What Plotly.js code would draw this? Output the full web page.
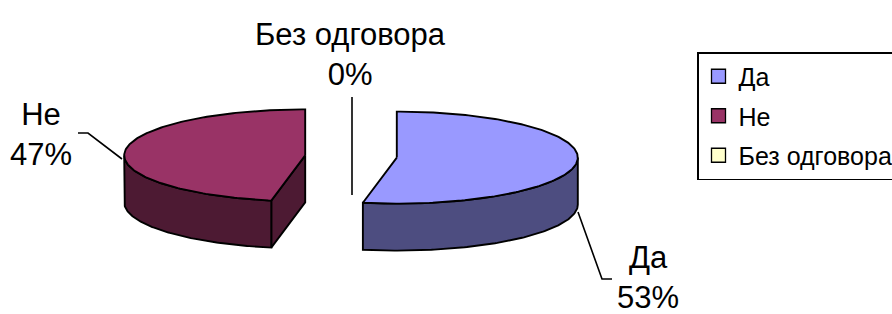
<!DOCTYPE html>
<html><head><meta charset="utf-8">
<script src="https://cdn.plot.ly/plotly-3.0.1.min.js"></script>
<style>html,body{margin:0;padding:0;background:#fff;}#chart{width:892px;height:314px;}</style>
</head><body><div id="chart"></div>
<script>
// ---- data ----
const categories = ["Да", "Не", "Без одговора"];
const values = [53, 47, 0];
const topColors = ["#9999FF", "#993366", "#FFFFCC"];
const sideColors = ["#4D4D80", "#4D1A33", "#80806A"];

// ---- layout / geometry (pixel-space axes) ----
const geom = {cx: 351, cy: 156.5, rx: 181, ry: 46, depth: 47, explode: 46};
const labelPos = {
  "Да": {x: 648, y: 277, leader: "M 612 279 L 602 279 L 578 212"},
  "Не": {x: 41, y: 134, leader: "M 78 133 L 88 133 L 122 159"},
  "Без одговора": {x: 350, y: 54, leader: "M 352 97 L 352 195"}
};
const FONT = "Liberation Sans, Arial, sans-serif";

const total = values.reduce((a, b) => a + b, 0);
const rad = d => d * Math.PI / 180;
function rim(cx, cy, th, dy) {
  return [cx + geom.rx * Math.sin(rad(th)), cy - geom.ry * Math.cos(rad(th)) + (dy || 0)];
}
function poly(points, fill) {
  return {type: "scatter", mode: "lines", x: points.map(p => p[0]), y: points.map(p => p[1]),
    fill: "toself", fillcolor: fill, line: {color: "#000", width: 1.9},
    hoverinfo: "skip", showlegend: false};
}

const traces = [];
let start = 0;
values.forEach((v, i) => {
  const sweep = v / total * 360;
  const t1 = start, t2 = start + sweep;
  start = t2;
  if (v <= 0) return;
  const mid = (t1 + t2) / 2;
  const cx = geom.cx + geom.explode * Math.sin(rad(mid));
  const cy = geom.cy - geom.explode * Math.cos(rad(mid)) * geom.ry / geom.rx;
  // radial cut faces (visible if their normal points toward viewer)
  [[t1, t1 - 90], [t2, t2 + 90]].forEach(([t, n]) => {
    if (-Math.cos(rad(n)) > 1e-6) {
      const p = rim(cx, cy, t);
      traces.push(poly([[cx, cy], p, [p[0], p[1] + geom.depth], [cx, cy + geom.depth], [cx, cy]], sideColors[i]));
    }
  });
  // curved outer side (front half only)
  const a = Math.max(t1, 90), b = Math.min(t2, 270);
  if (b > a) {
    const pts = [];
    for (let t = a; t <= b + 1e-9; t += (b - a) / 120) pts.push(rim(cx, cy, t));
    for (let t = b; t >= a - 1e-9; t -= (b - a) / 120) pts.push(rim(cx, cy, t, geom.depth));
    pts.push(pts[0]);
    traces.push(poly(pts, sideColors[i]));
  }
  // top face
  const top = [[cx, cy]];
  for (let t = t1; t <= t2 + 1e-9; t += (t2 - t1) / 180) top.push(rim(cx, cy, t));
  top.push([cx, cy]);
  traces.push(poly(top, topColors[i]));
});

// legend entries
categories.forEach((c, i) => {
  traces.push({type: "scatter", mode: "markers", x: [null], y: [null], name: c,
    legendgroup: c, showlegend: true, hoverinfo: "skip",
    marker: {symbol: "square", size: 14, color: topColors[i], line: {color: "#000", width: 1.3}}});
});

const annotations = categories.map((c, i) => ({
  xref: "x", yref: "y", x: labelPos[c].x, y: labelPos[c].y, showarrow: false,
  xanchor: "center", yanchor: "middle", align: "center",
  text: c + "<br>" + values[i] + "%", font: {family: FONT, size: 31, color: "#000"}
}));
const shapes = categories.map(c => ({type: "path", xref: "x", yref: "y",
  path: labelPos[c].leader, line: {color: "#000", width: 1.6}}));

const layout = {
  width: 892, height: 314, margin: {l: 0, r: 0, t: 0, b: 0, autoexpand: false},
  paper_bgcolor: "#fff", plot_bgcolor: "#fff",
  xaxis: {range: [0, 892], visible: false, fixedrange: true},
  yaxis: {range: [314, 0], visible: false, fixedrange: true},
  showlegend: true,
  legend: {x: 697 / 892, y: 1 - 52 / 314, xanchor: "left", yanchor: "top",
    bgcolor: "#fff", bordercolor: "#000", borderwidth: 1.5,
    font: {family: FONT, size: 25, color: "#000"},
    traceorder: "grouped", tracegroupgap: 4, itemclick: false, itemdoubleclick: false},
  annotations: annotations, shapes: shapes, font: {family: FONT}
};
Plotly.newPlot("chart", traces, layout, {staticPlot: true, displayModeBar: false});
</script></body></html>
